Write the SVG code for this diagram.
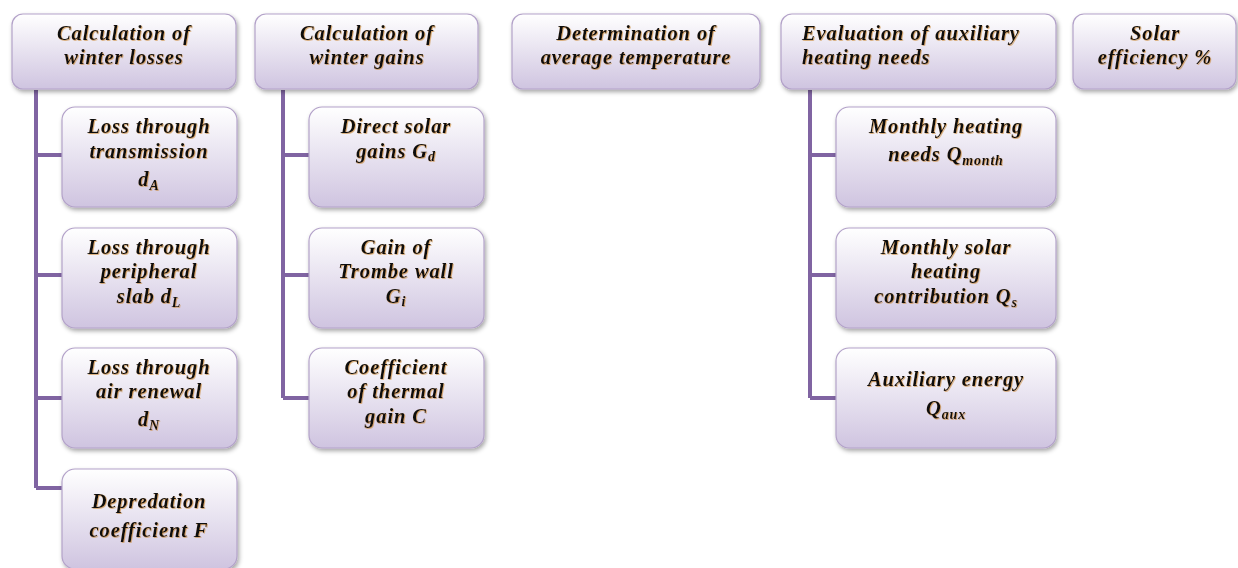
<svg xmlns="http://www.w3.org/2000/svg" width="1238" height="568" viewBox="0 0 1238 568">
<defs>
<linearGradient id="g" x1="0" y1="0" x2="0" y2="1">
<stop offset="0" stop-color="#ffffff"/>
<stop offset="1" stop-color="#cfc4e0"/>
</linearGradient>
<filter id="sh" x="-10%" y="-10%" width="125%" height="130%">
<feDropShadow dx="1.5" dy="2.5" stdDeviation="2" flood-color="#000" flood-opacity="0.35"/>
</filter>
<filter id="ts" x="-5%" y="-20%" width="110%" height="150%">
<feDropShadow dx="0.8" dy="0.8" stdDeviation="0.4" flood-color="#c8822a" flood-opacity="0.7"/>
</filter>
</defs>
<style>
.box{fill:url(#g);stroke:#b3a2c9;stroke-width:1.2;filter:url(#sh)}
.t{font-family:"Liberation Serif",serif;font-weight:bold;font-style:italic;font-size:20.5px;letter-spacing:0.9px;fill:#111;text-anchor:middle;filter:url(#ts)}
.l{text-anchor:start}
.sub{font-size:14px;letter-spacing:0.8px}
.con{fill:none;stroke:#8064a2;stroke-width:4}
</style>
<rect width="1238" height="568" fill="#fff"/>
<g id="connectors">
<path class="con" d="M36 90V488M36 155H62M36 275H62M36 398H62M36 488H62"/>
<path class="con" d="M283 90V398M283 155H309M283 275H309M283 398H309"/>
<path class="con" d="M810 90V398M810 155H836M810 275H836M810 398H836"/>
</g>
<g id="n1"><rect class="box" x="12" y="14" width="224" height="75" rx="11"/>
<text class="t" x="124" y="40">Calculation of</text><text class="t" x="124" y="64">winter losses</text></g>
<g id="n2"><rect class="box" x="255" y="14" width="223" height="75" rx="11"/>
<text class="t" x="367" y="40">Calculation of</text><text class="t" x="367" y="64">winter gains</text></g>
<g id="n3"><rect class="box" x="512" y="14" width="248" height="75" rx="11"/>
<text class="t" x="636" y="40">Determination of</text><text class="t" x="636" y="64">average temperature</text></g>
<g id="n4"><rect class="box" x="781" y="14" width="275" height="75" rx="11"/>
<text class="t l" x="802" y="40">Evaluation of auxiliary</text><text class="t l" x="802" y="64">heating needs</text></g>
<g id="n5"><rect class="box" x="1073" y="14" width="163" height="75" rx="11"/>
<text class="t" x="1155" y="40">Solar</text><text class="t" x="1155" y="64">efficiency %</text></g>

<g id="n1a"><rect class="box" x="62" y="107" width="175" height="100" rx="13"/>
<text class="t" x="149" y="133">Loss through</text><text class="t" x="149" y="158">transmission</text><text class="t" x="149" y="186">d<tspan class="sub" dy="4">A</tspan></text></g>
<g id="n1b"><rect class="box" x="62" y="228" width="175" height="100" rx="13"/>
<text class="t" x="149" y="254">Loss through</text><text class="t" x="149" y="278">peripheral</text><text class="t" x="149" y="303">slab  d<tspan class="sub" dy="4">L</tspan></text></g>
<g id="n1c"><rect class="box" x="62" y="348" width="175" height="100" rx="13"/>
<text class="t" x="149" y="374">Loss through</text><text class="t" x="149" y="398">air renewal</text><text class="t" x="149" y="426">d<tspan class="sub" dy="4">N</tspan></text></g>
<g id="n1d"><rect class="box" x="62" y="469" width="175" height="100" rx="13"/>
<text class="t" x="149" y="508">Depredation</text><text class="t" x="149" y="537">coefficient F</text></g>

<g id="n2a"><rect class="box" x="309" y="107" width="175" height="100" rx="13"/>
<text class="t" x="396" y="133">Direct solar</text><text class="t" x="396" y="158">gains  G<tspan class="sub" dy="3">d</tspan></text></g>
<g id="n2b"><rect class="box" x="309" y="228" width="175" height="100" rx="13"/>
<text class="t" x="396" y="254">Gain of</text><text class="t" x="396" y="278">Trombe wall</text><text class="t" x="396" y="303">G<tspan class="sub" dy="3">i</tspan></text></g>
<g id="n2c"><rect class="box" x="309" y="348" width="175" height="100" rx="13"/>
<text class="t" x="396" y="374">Coefficient</text><text class="t" x="396" y="398">of thermal</text><text class="t" x="396" y="423">gain C</text></g>

<g id="n4a"><rect class="box" x="836" y="107" width="220" height="100" rx="13"/>
<text class="t" x="946" y="133">Monthly heating</text><text class="t" x="946" y="161">needs Q<tspan class="sub" dy="4">month</tspan></text></g>
<g id="n4b"><rect class="box" x="836" y="228" width="220" height="100" rx="13"/>
<text class="t" x="946" y="254">Monthly solar</text><text class="t" x="946" y="278">heating</text><text class="t" x="946" y="303">contribution Q<tspan class="sub" dy="4">s</tspan></text></g>
<g id="n4c"><rect class="box" x="836" y="348" width="220" height="100" rx="13"/>
<text class="t" x="946" y="386">Auxiliary energy</text><text class="t" x="946" y="415">Q<tspan class="sub" dy="4">aux</tspan></text></g>
</svg>
